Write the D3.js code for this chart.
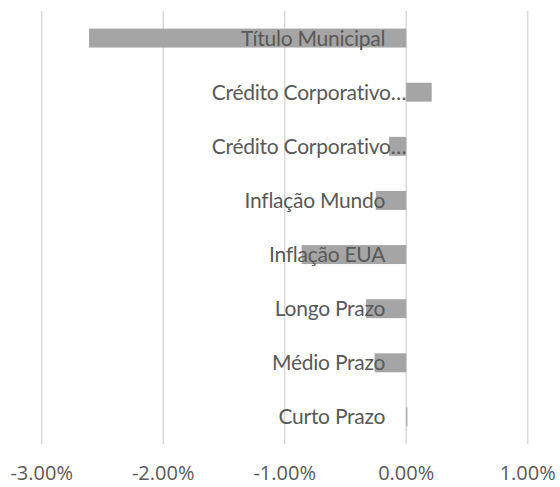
<!DOCTYPE html>
<html><head><meta charset="utf-8">
<script src="https://cdn.jsdelivr.net/npm/d3@7"></script>
<style>body{margin:0;background:#fff}</style>
</head><body>
<svg id="c" width="560" height="487"></svg>
<script>
const categories = ["Título Municipal","Crédito Corporativo…","Crédito Corporativo…","Inflação Mundo","Inflação EUA","Longo Prazo","Médio Prazo","Curto Prazo"];
const values = [-2.61, 0.21, -0.14, -0.25, -0.86, -0.33, -0.26, 0.01];
const tickValues = [-3, -2, -1, 0, 1];
const tickLabels = ["-3.00%","-2.00%","-1.00%","0.00%","1.00%"];

const svg = d3.select("#c");
const x = d3.scaleLinear().domain([-3, 1]).range([41.7, 527.7]);
const y = d3.scaleBand().domain(d3.range(categories.length)).range([11, 444]).paddingInner(0.65).paddingOuter(0.325);

// gridlines
svg.append("g").selectAll("line").data(tickValues).join("line")
  .attr("x1", d => x(d)).attr("x2", d => x(d)).attr("y1", 11).attr("y2", 444)
  .attr("stroke", "#d9d9d9").attr("stroke-width", 1.5);

// bars
svg.append("g").selectAll("rect").data(values).join("rect")
  .attr("x", d => x(Math.min(0, d)))
  .attr("width", d => Math.max(1.2, Math.abs(x(d) - x(0))))
  .attr("y", (d, i) => y(i))
  .attr("height", y.bandwidth())
  .attr("fill", "#a5a5a5");

// category labels
svg.append("g").selectAll("text").data(categories).join("text")
  .attr("x", d => d.endsWith("…") ? x(0) : x(0) - 21)
  .attr("y", (d, i) => y(i) + y.bandwidth() / 2)
  .attr("dy", "0.36em")
  .attr("text-anchor", "end")
  .attr("font-family", "Lato, 'Open Sans', sans-serif")
  .attr("font-weight", 400)
  .attr("font-size", 21)
  .attr("letter-spacing", "-0.25px")
  .attr("fill", "#595959")
  .text(d => d);

// x axis labels
svg.append("g").selectAll("text").data(tickValues).join("text")
  .attr("x", d => x(d))
  .attr("y", 480)
  .attr("text-anchor", "middle")
  .attr("font-family", "'Open Sans', sans-serif")
  .attr("font-size", 20)
  .attr("fill", "#595959")
  .text((d, i) => tickLabels[i]);
</script>
</body></html>
